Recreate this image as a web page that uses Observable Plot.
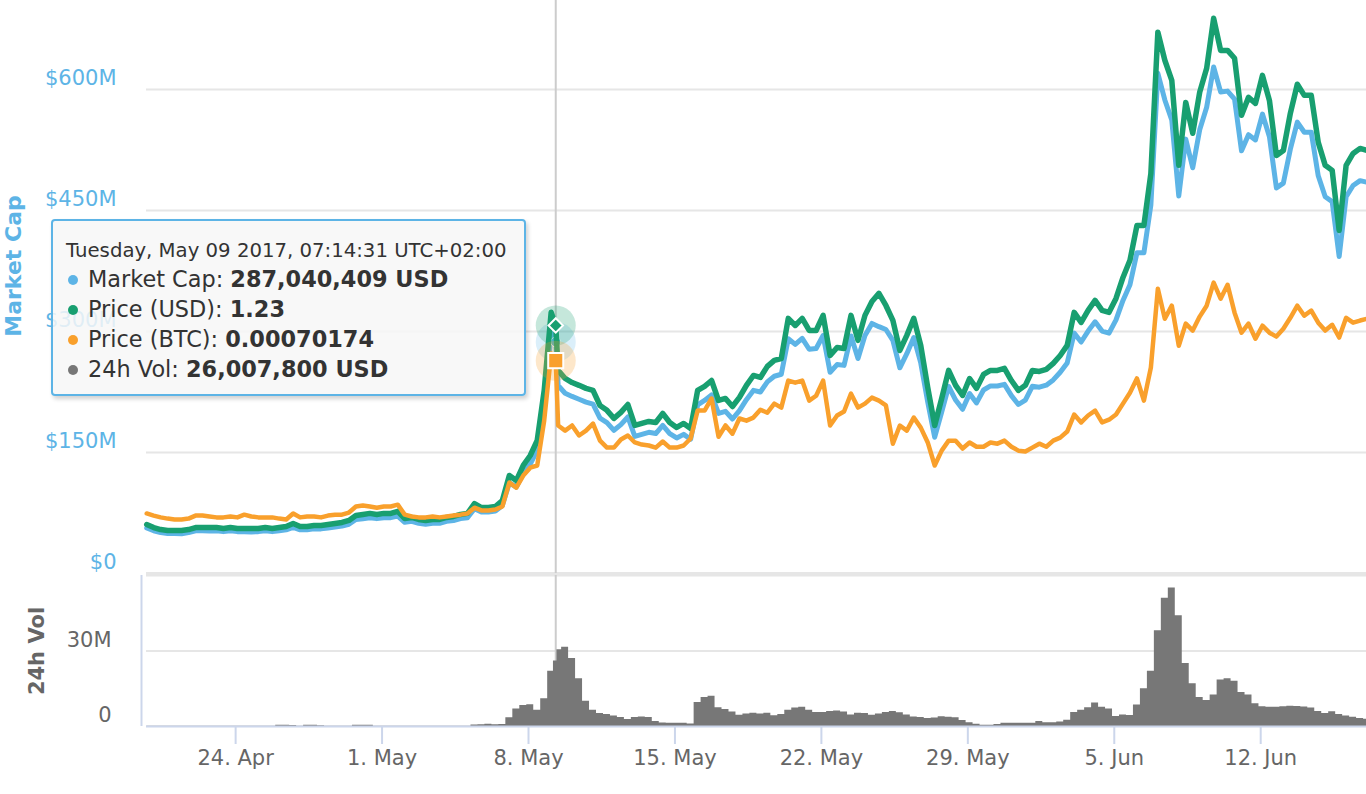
<!DOCTYPE html>
<html>
<head>
<meta charset="utf-8">
<script src="https://cdn.jsdelivr.net/npm/d3@7"></script>
<script src="https://cdn.jsdelivr.net/npm/@observablehq/plot@0.6"></script>
<style>
  body { margin: 0; background: #fff; font-family: "DejaVu Sans", sans-serif; }
  #chart { position: relative; width: 1366px; height: 794px; overflow: hidden; background: #fff; }
  #chart svg { position: absolute; left: 0; overflow: visible; }
  .tip { position: absolute; box-sizing: border-box; border: 2px solid #5db4e6; border-radius: 4px;
         background: rgba(247,247,247,0.85); box-shadow: 2px 3px 4px rgba(0,0,0,0.18);
         padding: 17px 0 0 13px; color: #333; z-index: 5; }
  .tip .hdr { font-size: 19.7px; line-height: 26px; white-space: nowrap; }
  .tip .row { font-size: 22.4px; line-height: 30px; white-space: nowrap; position: relative; padding-left: 22px; }
  .tip .dot { position: absolute; left: 2px; top: 10.5px; width: 10px; height: 10px; border-radius: 50%; }
</style>
</head>
<body>
<div id="chart"></div>
<script>
// ---------- data ----------
const seriesNames = ["Market Cap", "Price (USD)", "Price (BTC)", "24h Vol"];
const seriesColors = ["#5db4e6", "#189f70", "#f9a02c", "#777777"];

const capTicks = [0, 150, 300, 450, 600];          // $M
const volTicks = [0, 30];                          // M
const xTickDates = ["2017-04-24", "2017-05-01", "2017-05-08", "2017-05-15",
                    "2017-05-22", "2017-05-29", "2017-06-05", "2017-06-12"];

const seriesStart = "2017-04-19T18:00:00Z";       // first sample (UTC+02:00 wall clock)
const stepHours = 8;

// Market Cap, millions USD
const capM = [
 56.5,53.0,50.7,49.6,49.6,49.2,50.7,53.0,53.0,52.6,
 53.0,51.9,53.0,51.9,51.9,51.5,51.9,53.0,51.9,53.0,
 54.2,57.2,54.2,54.2,55.3,55.3,56.5,57.7,58.8,61.1,
 66.9,68.0,69.2,68.0,69.2,69.2,71.2,63.4,64.6,62.3,
 61.1,62.3,62.3,64.6,65.7,68.0,69.2,80.2,76.1,76.1,
 77.3,84.2,112.5,107.2,124.5,135.5,152.5,209.5,298.0,233.0,
 223.5,219.5,216.0,212.5,210.0,192.5,187.0,177.5,184.5,194.0,
 170.0,172.5,175.0,173.5,183.5,173.5,168.0,172.5,166.5,209.0,
 214.5,221.5,198.5,201.0,191.5,202.0,215.5,227.0,225.0,237.5,
 244.5,247.0,291.0,284.0,291.5,278.0,279.0,295.0,249.5,259.0,
 258.0,294.5,266.5,295.0,310.0,306.0,302.5,289.0,255.0,272.5,
 292.5,261.0,212.5,169.0,200.0,232.0,215.0,203.5,223.0,211.5,
 227.5,232.5,232.5,234.5,220.5,209.5,215.0,232.0,231.0,233.5,
 240.0,249.5,261.0,298.0,287.0,300.5,312.0,300.5,298.0,314.5,
 338.5,358.0,397.5,397.5,457.0,620.0,587.0,562.0,468.0,538.5,
 503.0,550.0,578.0,628.0,597.0,598.0,588.0,524.0,544.0,537.5,
 569.5,541.5,478.0,484.0,526.0,559.5,547.0,547.0,493.0,467.0,
 461.0,393.0,467.0,481.0,487.0,485.0
];

// Price, USD
const priceUsd = [
 0.243,0.228,0.218,0.213,0.213,0.213,0.218,0.228,0.228,0.228,
 0.228,0.223,0.228,0.223,0.223,0.223,0.223,0.228,0.223,0.228,
 0.233,0.248,0.233,0.233,0.238,0.238,0.243,0.248,0.253,0.263,
 0.288,0.293,0.298,0.293,0.298,0.298,0.308,0.273,0.278,0.268,
 0.263,0.268,0.268,0.278,0.283,0.293,0.298,0.347,0.327,0.327,
 0.332,0.362,0.486,0.461,0.536,0.585,0.660,0.908,1.295,1.007,
 0.967,0.947,0.933,0.918,0.908,0.833,0.809,0.769,0.799,0.838,
 0.734,0.744,0.754,0.749,0.794,0.749,0.724,0.744,0.719,0.908,
 0.928,0.957,0.858,0.868,0.828,0.873,0.933,0.982,0.972,1.027,
 1.057,1.066,1.265,1.230,1.265,1.205,1.205,1.280,1.081,1.121,
 1.116,1.280,1.156,1.280,1.349,1.389,1.329,1.255,1.106,1.181,
 1.265,1.131,0.923,0.734,0.868,1.007,0.933,0.883,0.967,0.918,
 0.987,1.007,1.007,1.017,0.957,0.908,0.933,1.007,1.002,1.012,
 1.042,1.081,1.131,1.295,1.245,1.305,1.354,1.305,1.295,1.364,
 1.468,1.553,1.726,1.726,1.984,2.684,2.545,2.445,2.024,2.336,
 2.183,2.386,2.505,2.753,2.594,2.594,2.555,2.272,2.361,2.331,
 2.470,2.346,2.073,2.098,2.282,2.426,2.371,2.371,2.138,2.024,
 1.999,1.701,2.024,2.083,2.108,2.098
];

// Price, BTC
const priceBtc = [
 0.000198,0.000191,0.000185,0.000181,0.000178,0.000178,0.000181,0.000191,0.000191,0.000188,
 0.000185,0.000185,0.000188,0.000185,0.000194,0.000188,0.000185,0.000185,0.000185,0.000181,
 0.000178,0.000198,0.000185,0.000188,0.000188,0.000185,0.000191,0.000194,0.000194,0.000201,
 0.000221,0.000224,0.000221,0.000217,0.000221,0.000221,0.000227,0.000194,0.000188,0.000185,
 0.000185,0.000188,0.000185,0.000188,0.000191,0.000194,0.000198,0.000217,0.000208,0.000208,
 0.000211,0.000221,0.000300,0.000283,0.000323,0.000349,0.000356,0.000504,0.000725,0.000488,
 0.000471,0.000488,0.000455,0.000471,0.000494,0.000438,0.000415,0.000415,0.000442,0.000455,
 0.000432,0.000425,0.000422,0.000415,0.000435,0.000415,0.000415,0.000422,0.000445,0.000537,
 0.000537,0.000577,0.000451,0.000488,0.000461,0.000511,0.000504,0.000514,0.000540,0.000530,
 0.000560,0.000547,0.000636,0.000629,0.000636,0.000570,0.000586,0.000636,0.000488,0.000521,
 0.000534,0.000593,0.000547,0.000560,0.000580,0.000570,0.000554,0.000428,0.000488,0.000471,
 0.000514,0.000481,0.000432,0.000356,0.000405,0.000438,0.000438,0.000412,0.000432,0.000418,
 0.000418,0.000432,0.000428,0.000438,0.000418,0.000405,0.000402,0.000415,0.000428,0.000418,
 0.000438,0.000448,0.000468,0.000524,0.000498,0.000521,0.000537,0.000498,0.000507,0.000524,
 0.000560,0.000596,0.000643,0.000570,0.000679,0.000939,0.000840,0.000883,0.000751,0.000824,
 0.000801,0.000847,0.000883,0.000959,0.000906,0.000952,0.000860,0.000794,0.000824,0.000774,
 0.000817,0.000794,0.000781,0.000807,0.000843,0.000883,0.000850,0.000867,0.000827,0.000801,
 0.000820,0.000778,0.000843,0.000827,0.000834,0.000840
];

// 24h Volume, millions USD
const volM = [
 0.1,0.1,0.1,0.1,0.1,0.1,0.1,0.1,0.1,0.1,
 0.1,0.1,0.1,0.1,0.1,0.1,0.1,0.1,0.1,0.5,
 0.5,0.4,0.1,0.5,0.5,0.3,0.1,0.1,0.1,0.1,
 0.5,0.5,0.5,0.1,0.1,0.1,0.1,0.1,0.1,0.1,
 0.1,0.1,0.1,0.1,0.1,0.1,0.1,0.6,0.7,0.9,
 0.7,0.8,3.5,7.0,8.3,8.6,6.5,11.0,22.0,30.5,
 31.5,27.0,19.0,10.0,6.5,5.2,4.8,4.2,3.6,2.8,
 3.6,3.8,3.6,2.0,1.4,1.3,1.3,1.3,1.0,9.5,
 11.5,12.0,7.5,6.8,5.8,4.5,5.0,5.3,5.0,5.3,
 4.3,4.8,6.5,7.4,7.6,6.5,5.6,5.6,6.0,6.2,
 5.8,4.6,5.3,5.2,4.5,5.0,5.6,6.0,5.5,4.6,
 3.8,3.6,3.2,3.4,3.9,3.7,3.5,2.4,1.5,0.9,
 0.5,0.5,0.8,1.3,1.3,1.3,1.3,1.3,2.0,1.5,
 1.5,1.8,2.5,5.6,6.5,7.5,9.3,7.6,7.0,4.0,
 4.6,4.4,8.5,15.0,22.0,38.0,51.0,55.0,44.0,25.0,
 17.0,11.5,10.3,12.5,18.5,19.0,18.0,13.5,12.5,9.0,
 7.8,7.6,7.6,7.8,8.0,7.9,7.7,7.4,6.0,5.2,
 5.9,4.8,4.2,3.7,3.2,2.9
];

// hovered point (tooltip)
const hoverTime = "2017-05-09T07:14:31Z";
const hoverCapUsd = 287040409;
const hoverPriceUsd = 1.23;
const hoverPriceBtc = 0.00070174;
const hoverVolUsd = 26007800;

// axis extents (secondary price axes share the plot area with market cap)
const capAxisMax = 600;
const usdAxisMax = 2.4;
const btcAxisMax = 0.0015957;
const volAxisMax = 60;
const xStart = new Date("2017-04-19T17:45:00Z");
const xEnd = new Date("2017-06-17T01:22:00Z");

// ---------- build ----------
(function () {
const t0 = Date.parse(seriesStart);
const rows = capM.map((c, i) => ({
  date: new Date(t0 + i * stepHours * 3600e3),
  cap: c, usd: priceUsd[i], btc: priceBtc[i], vol: volM[i]
}));
const hover = {date: new Date(hoverTime), cap: hoverCapUsd / 1e6, usd: hoverPriceUsd,
               btc: hoverPriceBtc, vol: hoverVolUsd / 1e6};
const data = [...rows, hover].sort((a, b) => a.date - b.date);

const usdY = d => d.usd * capAxisMax / usdAxisMax;
const btcY = d => d.btc * capAxisMax / btcAxisMax;

const [cBlue, cGreen, cOrange, cGray] = seriesColors;
const font = '"DejaVu Sans", sans-serif';
const xTicks = xTickDates.map(s => new Date(s + "T00:00:00Z"));
const fmtMonth = d3.utcFormat("%b");

const upperPlot = Plot.plot({
  width: 1366, height: 575,
  marginLeft: 146, marginRight: 0, marginTop: 0, marginBottom: 2,
  style: {fontFamily: font, background: "transparent", overflow: "visible"},
  x: {type: "utc", domain: [xStart, xEnd], axis: null},
  y: {domain: [0, capAxisMax], range: [573, 89]},
  marks: [
    Plot.ruleY(capTicks.filter(d => d > 0), {stroke: "#e6e6e6", strokeWidth: 2}),
    Plot.ruleY([0], {stroke: "#e6e6e6", strokeWidth: 3}),
    Plot.axisY({ticks: capTicks, tickSize: 0, tickPadding: 30, tickFormat: d => d ? `$${d}M` : "$0",
                fill: cBlue, fontSize: 21, dy: -11, label: null}),
    Plot.text([seriesNames[0]], {frameAnchor: "left", textAnchor: "middle", lineAnchor: "middle",
                rotate: -90, dx: -133, dy: -21,
                fontWeight: "bold", fontSize: 22, fill: cBlue}),
    Plot.ruleX([hover.date], {stroke: "#cccccc", strokeWidth: 2}),
    Plot.lineY(data, {x: "date", y: "cap", stroke: cBlue, strokeWidth: 5, strokeLinejoin: "round"}),
    Plot.dot([hover], {x: "date", y: "cap", r: 20, fill: cBlue, fillOpacity: 0.22}),
    Plot.dot([hover], {x: "date", y: "cap", r: 5, fill: cBlue, stroke: "white", strokeWidth: 1}),
    Plot.lineY(data, {x: "date", y: usdY, stroke: cGreen, strokeWidth: 5.5, strokeLinejoin: "round"}),
    Plot.dot([hover], {x: "date", y: usdY, r: 20, fill: cGreen, fillOpacity: 0.25}),
    Plot.dot([hover], {x: "date", y: usdY, r: 6.5, symbol: "diamond2", fill: cGreen, stroke: "white", strokeWidth: 2}),
    Plot.lineY(data, {x: "date", y: btcY, stroke: cOrange, strokeWidth: 4.5, strokeLinejoin: "round"}),
    Plot.dot([hover], {x: "date", y: btcY, r: 20, fill: cOrange, fillOpacity: 0.25}),
    Plot.dot([hover], {x: "date", y: btcY, r: 8.5, symbol: "square", fill: cOrange, stroke: "white", strokeWidth: 2})
  ]
});
upperPlot.style.top = "0px";

const lowerPlot = Plot.plot({
  width: 1366, height: 221,
  marginLeft: 146, marginRight: 0, marginTop: 2, marginBottom: 68,
  style: {fontFamily: font, background: "transparent", overflow: "visible"},
  x: {type: "utc", domain: [xStart, xEnd]},
  y: {domain: [0, volAxisMax]},
  marks: [
    Plot.ruleY([30, 60], {stroke: "#e6e6e6", strokeWidth: 2}),
    Plot.ruleX([hover.date], {stroke: "#cccccc", strokeWidth: 2}),
    Plot.areaY(data, {x: "date", y: "vol", curve: "step", fill: cGray}),
    Plot.ruleY([0], {stroke: "#ccd6eb", strokeWidth: 2}),
    Plot.ruleX([xStart], {dx: -5, stroke: "#ccd6eb", strokeWidth: 2}),
    Plot.axisX({ticks: xTicks, tickSize: 18, tickPadding: 6, stroke: "#ccd6eb", strokeWidth: 2,
                tickFormat: d => `${d.getUTCDate()}. ${fmtMonth(d)}`,
                fill: "#666666", fontSize: 21, label: null}),
    Plot.axisY({ticks: volTicks, tickSize: 0, tickPadding: 35, tickFormat: d => d ? `${d}M` : "0",
                fill: "#666666", fontSize: 21, dy: -11, label: null}),
    Plot.text([seriesNames[3]], {frameAnchor: "left", textAnchor: "middle", lineAnchor: "middle",
                rotate: -90, dx: -109, dy: 0,
                fontWeight: "bold", fontSize: 21, fill: "#666666"})
  ]
});
lowerPlot.style.top = "573px";

const chart = document.getElementById("chart");
chart.append(upperPlot, lowerPlot);

// tooltip
const fmtHeader = d3.utcFormat("%A, %b %d %Y, %H:%M:%S");
const fmtInt = d3.format(",");
const tip = document.createElement("div");
tip.className = "tip";
Object.assign(tip.style, {left: "51px", top: "219px", width: "475px", height: "177px"});
const tipRows = [
  [seriesNames[0], fmtInt(hoverCapUsd) + " USD", cBlue],
  [seriesNames[1], String(hoverPriceUsd), cGreen],
  [seriesNames[2], hoverPriceBtc.toFixed(8), cOrange],
  [seriesNames[3], fmtInt(hoverVolUsd) + " USD", cGray]
];
tip.innerHTML = `<div class="hdr">${fmtHeader(hover.date)} UTC+02:00</div>` +
  tipRows.map(([n, v, c]) =>
    `<div class="row"><span class="dot" style="background:${c}"></span>${n}: <b>${v}</b></div>`).join("");
chart.append(tip);
})();
</script>
</body>
</html>
